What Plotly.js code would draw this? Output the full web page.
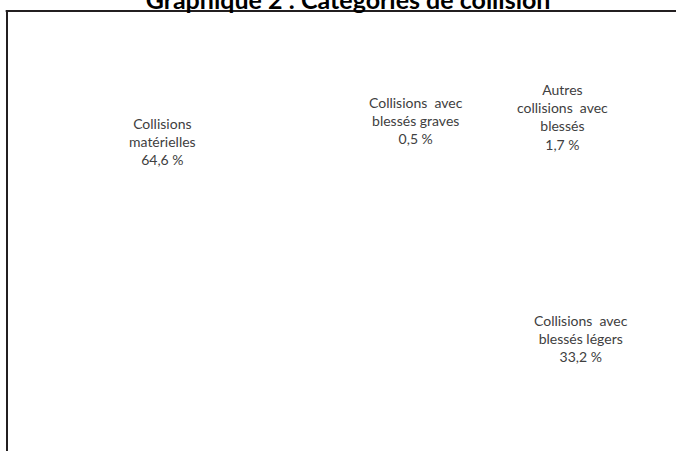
<!DOCTYPE html>
<html>
<head>
<meta charset="utf-8">
<script src="https://cdn.plot.ly/plotly-3.0.1.min.js"></script>
<style>html,body{margin:0;padding:0;background:#fff;}#chart{width:676px;height:451px;}</style>
</head>
<body>
<div id="chart"></div>
<script>
// ---- data ----
var titleText = 'Graphique 2 : Catégories de collision';
var categories = ['Collisions matérielles', 'Collisions avec blessés graves', 'Autres collisions avec blessés', 'Collisions avec blessés légers'];
var labelLines = ['Collisions<br>matérielles', 'Collisions  avec<br>blessés graves', 'Autres<br>collisions  avec<br>blessés', 'Collisions  avec<br>blessés légers'];
var shares = [64.6, 0.5, 1.7, 33.2];

// ---- layout of the data labels (paper coordinates) ----
var labelX = [0.233, 0.612, 0.831, 0.858];
var labelY = [0.703, 0.752, 0.760, 0.256];

function fmt(v) { return v.toFixed(1).replace('.', ',') + ' %'; }

var trace = {
  type: 'pie',
  labels: categories,
  values: shares,
  sort: false,
  direction: 'clockwise',
  rotation: 180,
  marker: {colors: categories.map(function () { return 'rgba(255,255,255,0)'; }), line: {width: 0}},
  textinfo: 'none',
  showlegend: false,
  hoverinfo: 'label+percent',
  domain: {x: [0.27, 0.82], y: [0.05, 0.88]}
};

var annotations = categories.map(function (c, i) {
  return {
    xref: 'paper', yref: 'paper',
    x: labelX[i], y: labelY[i],
    xanchor: 'center', yanchor: 'middle',
    align: 'center',
    showarrow: false,
    text: labelLines[i] + '<br>' + fmt(shares[i]),
    font: {family: 'Lato, sans-serif', size: 14, color: '#404040'}
  };
});

var layout = {
  width: 676, height: 451,
  margin: {l: 7, r: 0, t: 11, b: 0},
  paper_bgcolor: '#ffffff',
  plot_bgcolor: '#ffffff',
  showlegend: false,
  title: {text: '<b>' + titleText + '</b>', font: {family: 'Lato, sans-serif', size: 25, color: '#000000'}, xref: 'container', x: 0.515, xanchor: 'center', yref: 'container', y: 1, yanchor: 'middle'},
  annotations: annotations,
  shapes: [
    {type: 'line', xref: 'paper', yref: 'paper', x0: -0.002, x1: 1, y0: 1, y1: 1, line: {color: '#231f20', width: 2}},
    {type: 'line', xref: 'paper', yref: 'paper', x0: 0, x1: 0, y0: 0, y1: 1, line: {color: '#231f20', width: 2}}
  ]
};

Plotly.newPlot('chart', [trace], layout, {displayModeBar: false, staticPlot: true});
</script>
</body>
</html>
